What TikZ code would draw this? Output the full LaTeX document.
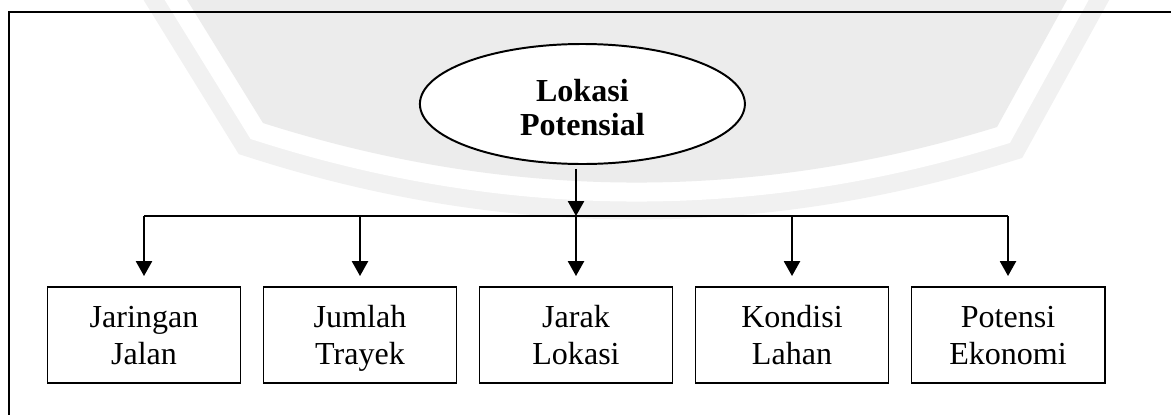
\documentclass[tikz,border=0pt]{standalone}
\usepackage{fontspec}
\setmainfont{Liberation Serif}
\usetikzlibrary{shapes.geometric, arrows.meta}

\newcommand{\atas}{\rule{0pt}{20.5pt}}
\newcommand{\bawah}{\rule[-5pt]{0pt}{0pt}}

\begin{document}
\begin{tikzpicture}[
    kotak/.style={draw, fill=white, line width=1.4pt, minimum width=4.825cm, minimum height=2.4cm, align=center, inner sep=0pt, font=\fontsize{22.8}{26.3}\selectfont},
    elips/.style={draw, ellipse, fill=white, line width=1.4pt, minimum width=8.125cm, minimum height=3cm, inner sep=0pt, align=center, font=\fontsize{22.8}{24.2}\selectfont\bfseries},
    garis/.style={line width=1.4pt},
    panah/.style={line width=1.4pt, -{Triangle[length=3.7mm, width=4mm]}},
    bingkai/.style={line width=1.7pt},
    pita/.style={line join=miter}
]

\useasboundingbox (0,0) rectangle (29.275,10.35);
\clip (0,0) rectangle (29.275,10.35);

% --- Latar belakang (logo) ---
\draw[pita, gray!11, line width=1.85cm] (3.75,11.85) -- (6.575,7.275) .. controls (12.69,5.325) and (18.81,5.29) .. (24.925,7.175) -- (27.5,11.85);
\draw[pita, white, line width=0.95cm] (3.75,11.85) -- (6.575,7.275) .. controls (12.69,5.325) and (18.81,5.29) .. (24.925,7.175) -- (27.5,11.85);
\fill[gray!15] (3.75,11.85) -- (6.575,7.275) .. controls (12.69,5.325) and (18.81,5.29) .. (24.925,7.175) -- (27.5,11.85) -- cycle;

% --- Bingkai ---
\draw[bingkai] (0.225,-1) -- (0.225,10.05) -- (30,10.05);

% --- Simpul ---
\node[elips] (lokasi) at (14.56,7.75) {\rule{0pt}{21pt}Lokasi\\Potensial};

\node[kotak] (jalan) at (3.6,1.975) {\atas Jaringan\\\bawah Jalan};
\node[kotak] (trayek) at (9.0,1.975) {\atas Jumlah\\\bawah Trayek};
\node[kotak] (jarak) at (14.4,1.975) {\atas Jarak\\\bawah Lokasi};
\node[kotak] (lahan) at (19.8,1.975) {\atas Kondisi\\\bawah Lahan};
\node[kotak] (ekonomi) at (25.2,1.975) {\atas Potensi\\\bawah Ekonomi};

% --- Panah ---
\coordinate (cabang) at (14.4,4.95);
\draw[panah, shorten <=0.1cm] (lokasi.south -| jarak) -- (cabang);
\draw[garis] (jalan.north |- cabang) -- (ekonomi.north |- cabang);
\foreach \k in {jalan, trayek, jarak, lahan, ekonomi}
    \draw[panah, shorten >=0.25cm] (\k.north |- cabang) -- (\k.north);

\end{tikzpicture}
\end{document}
